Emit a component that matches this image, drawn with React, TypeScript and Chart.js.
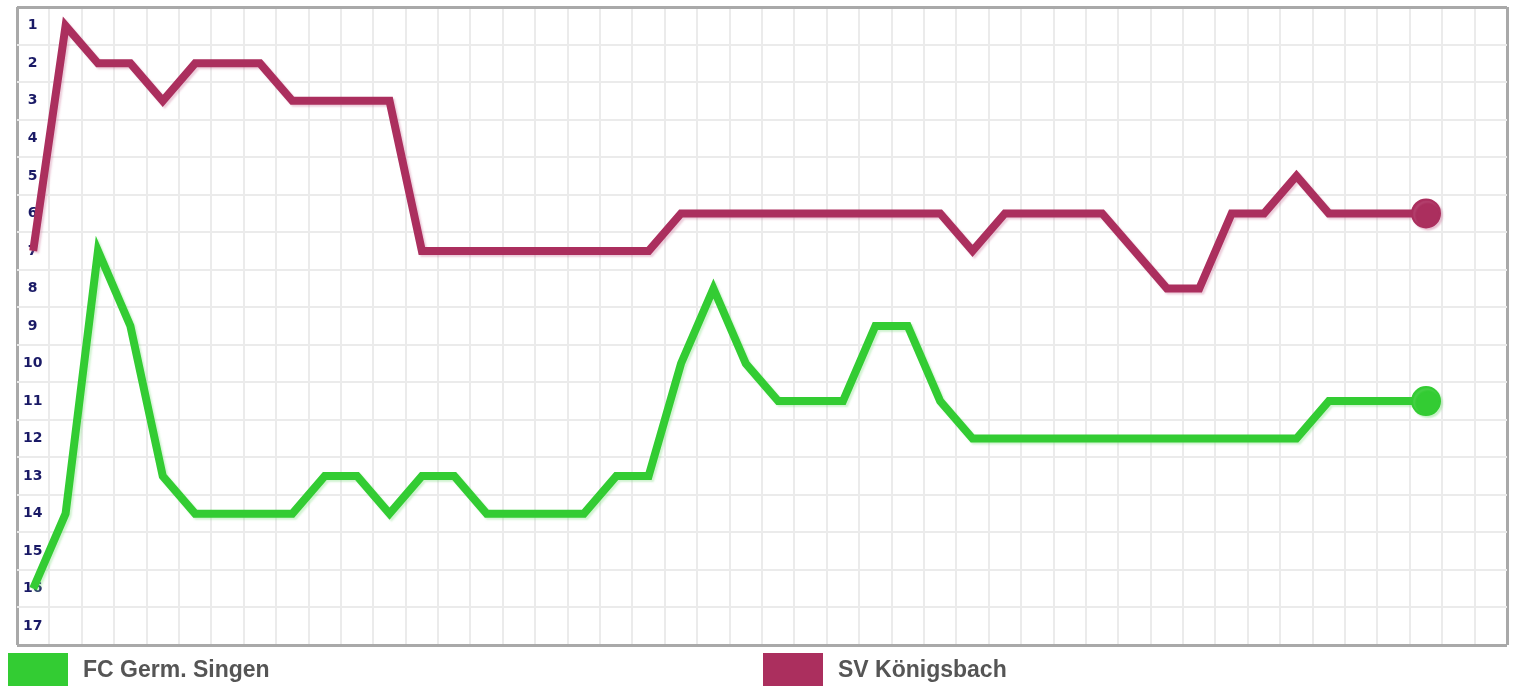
import React, { useEffect, useRef } from 'react';
import { Chart, registerables } from 'chart.js';

Chart.register(...registerables);

// Matchday slots on the x axis (44 played, grid shows 46)
const MATCHDAYS = [
  '1', '2', '3', '4', '5', '6', '7', '8', '9', '10',
  '11', '12', '13', '14', '15', '16', '17', '18', '19', '20',
  '21', '22', '23', '24', '25', '26', '27', '28', '29', '30',
  '31', '32', '33', '34', '35', '36', '37', '38', '39', '40',
  '41', '42', '43', '44', '45', '46',
];

// Table positions shown on the y axis
const RANKS = [1, 2, 3, 4, 5, 6, 7, 8, 9, 10, 11, 12, 13, 14, 15, 16, 17];

const TEAMS = ['FC Germ. Singen', 'SV Königsbach'];

const SINGEN = [
  16, 14, 7, 9, 13, 14, 14, 14, 14, 13,
  13, 14, 13, 13, 14, 14, 14, 14, 13, 13,
  10, 8, 10, 11, 11, 11, 9, 9, 11, 12,
  12, 12, 12, 12, 12, 12, 12, 12, 12, 12,
  11, 11, 11, 11,
];

const KOENIGSBACH = [
  7, 1, 2, 2, 3, 2, 2, 2, 3, 3,
  3, 3, 7, 7, 7, 7, 7, 7, 7, 7,
  6, 6, 6, 6, 6, 6, 6, 6, 6, 7,
  6, 6, 6, 6, 7, 8, 8, 6, 6, 5,
  6, 6, 6, 6,
];

const COLORS = ['#33cc33', '#ab2f5e'];
const SHADOWS = ['rgba(120, 220, 120, 0.35)', 'rgba(200, 110, 150, 0.35)'];

const GRID = '#ebebeb';
const FRAME = '#a9a9a9';

export default function App() {
  const canvasRef = useRef<HTMLCanvasElement | null>(null);

  useEffect(() => {
    const canvas = canvasRef.current;
    if (!canvas) return;

    const yTicks: { value: number }[] = [];
    RANKS.forEach((r) => {
      yTicks.push({ value: r - 0.5 });
      yTicks.push({ value: r });
    });
    const yMin = RANKS[0] - 0.5;
    const yMax = RANKS[RANKS.length - 1] + 0.5;
    yTicks.push({ value: yMax });

    const shadowPlugin = {
      id: 'lineShadow',
      beforeDatasetDraw(chart: any, args: any) {
        const ctx = chart.ctx;
        ctx.save();
        ctx.shadowColor = SHADOWS[args.index] || 'rgba(0,0,0,0)';
        ctx.shadowOffsetX = 2;
        ctx.shadowOffsetY = 2;
        ctx.shadowBlur = 2;
      },
      afterDatasetDraw(chart: any) {
        chart.ctx.restore();
      },
    };

    const series = [SINGEN, KOENIGSBACH];

    const chart = new Chart(canvas, {
      type: 'line',
      data: {
        labels: MATCHDAYS,
        datasets: series.map((values, i) => ({
          label: TEAMS[i],
          data: values,
          borderColor: COLORS[i],
          backgroundColor: COLORS[i],
          borderWidth: 8,
          fill: false,
          tension: 0,
          borderJoinStyle: 'miter' as const,
          pointRadius: (c: any) => (c.dataIndex === values.length - 1 ? 14 : 0),
          pointHoverRadius: (c: any) => (c.dataIndex === values.length - 1 ? 14 : 0),
          pointBorderWidth: 2,
          pointBorderColor: COLORS[i],
          pointBackgroundColor: COLORS[i],
        })),
      },
      plugins: [shadowPlugin],
      options: {
        responsive: false,
        animation: false,
        events: [],
        layout: { autoPadding: false, padding: { left: 11, top: 7, right: 9, bottom: 41 } },
        plugins: {
          legend: { display: false },
          tooltip: { enabled: false },
          title: { display: false },
        },
        scales: {
          x: {
            type: 'category',
            offset: true,
            border: { display: false },
            grid: {
              offset: true,
              drawTicks: false,
              color: (c: any) => (c.type !== 'tick' || c.index === 0 ? FRAME : GRID),
              lineWidth: (c: any) => (c.type !== 'tick' || c.index === 0 ? 3 : 2),
            },
            ticks: { display: false, autoSkip: false },
          },
          y: {
            type: 'linear',
            reverse: true,
            min: yMin,
            max: yMax,
            afterBuildTicks: (scale: any) => {
              scale.ticks = yTicks.map((t) => ({ value: t.value }));
            },
            afterFit: (scale: any) => {
              scale.width = 6;
              scale.paddingTop = 0;
              scale.paddingBottom = 0;
            },
            border: { display: false },
            grid: {
              drawTicks: false,
              color: (c: any) => {
                const v = c.tick ? c.tick.value : 0;
                if (v === yMin || v === yMax) return FRAME;
                return Number.isInteger(v) ? 'rgba(0,0,0,0)' : GRID;
              },
              lineWidth: (c: any) => {
                const v = c.tick ? c.tick.value : 0;
                return v === yMin || v === yMax ? 3 : 2;
              },
            },
            ticks: {
              mirror: true,
              crossAlign: 'center',
              padding: 6,
              autoSkip: false,
              color: '#1a1a66',
              font: { family: 'DejaVu Sans', weight: 'bold', size: 14, lineHeight: 1 },
              callback: (v: any) => (Number.isInteger(v) ? String(v) : ''),
            },
          },
        },
      },
    } as any);

    return () => chart.destroy();
  }, []);

  const legendText: React.CSSProperties = {
    position: 'absolute',
    top: 658,
    fontFamily: '"Liberation Sans", Arial, sans-serif',
    fontWeight: 'bold',
    fontSize: 23,
    lineHeight: '23px',
    color: '#555555',
    whiteSpace: 'nowrap',
  };
  const legendBox: React.CSSProperties = {
    position: 'absolute',
    top: 653,
    width: 60,
    height: 34,
  };

  return (
    <div
      style={{
        position: 'absolute',
        left: 0,
        top: 0,
        width: 1516,
        height: 686,
        background: '#ffffff',
        overflow: 'hidden',
      }}
    >
      <canvas
        ref={canvasRef}
        width={1516}
        height={686}
        style={{ position: 'absolute', left: 0, top: 0, width: 1516, height: 686 }}
      />
      <div style={{ ...legendBox, left: 8, background: COLORS[0] }} />
      <div style={{ ...legendText, left: 83 }}>{TEAMS[0]}</div>
      <div style={{ ...legendBox, left: 763, background: COLORS[1] }} />
      <div style={{ ...legendText, left: 838 }}>{TEAMS[1]}</div>
    </div>
  );
}
